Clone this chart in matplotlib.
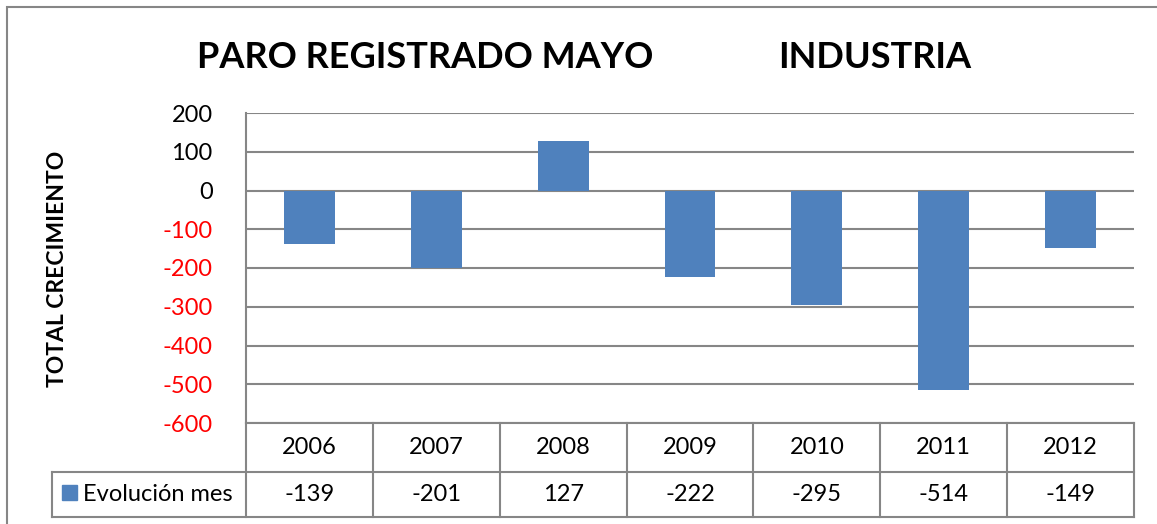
import matplotlib
matplotlib.use("Agg")
import matplotlib.pyplot as plt
import matplotlib.transforms as mtransforms
from matplotlib.patches import Rectangle

# datos del grafico
anios = ["2006", "2007", "2008", "2009", "2010", "2011", "2012"]
evolucion_mes = [-139, -201, 127, -222, -295, -514, -149]
serie = "Evolución mes"
ticks_y = [200, 100, 0, -100, -200, -300, -400, -500, -600]

AZUL = "#4F81BD"
GRIS = "#868686"
plt.rcParams["font.family"] = ["Lato", "DejaVu Sans"]

W, H = 1157, 524
fig = plt.figure(figsize=(W / 100, H / 100), dpi=100)

def fx(px):
    return px / W

def fy(py):
    return 1 - py / H

# borde exterior del grafico (cortado a la derecha y abajo)
fig.patches.append(Rectangle((fx(7), fy(530)), fx(1160), fy(7) - fy(530),
                             transform=fig.transFigure, fill=False,
                             edgecolor=GRIS, linewidth=1.5))

ax = fig.add_axes([fx(246), fy(423), fx(1134) - fx(246), fy(113) - fy(423)])
x = list(range(len(anios)))
ax.bar(x, evolucion_mes, width=0.4, color=AZUL, zorder=3)
ax.set_xlim(-0.5, len(anios) - 0.5)
ax.set_ylim(-600, 200)
ax.set_yticks(ticks_y)
ax.set_yticklabels([str(t) for t in ticks_y], fontsize=17)
for lbl, t in zip(ax.get_yticklabels(), ticks_y):
    lbl.set_color("red" if t < 0 else "black")
ax.tick_params(axis="y", length=0, pad=24)
ax.set_xticks([])
ax.grid(axis="y", color=GRIS, linewidth=1.5, zorder=0)
for s in ["top", "right", "bottom"]:
    ax.spines[s].set_visible(False)
ax.spines["left"].set_color(GRIS)
ax.spines["left"].set_linewidth(1.5)

# titulo del eje
fig.text(fx(57), fy(269), "TOTAL CRECIMIENTO", rotation=90, fontsize=16.5,
         fontweight="bold", ha="center", va="center")

# titulo
fig.text(fx(197), fy(68), "PARO REGISTRADO MAYO", fontsize=26,
         fontweight="bold", va="baseline", ha="left")
fig.text(fx(778), fy(68), "INDUSTRIA", fontsize=26,
         fontweight="bold", va="baseline", ha="left")

# tabla de datos
tr = mtransforms.blended_transform_factory(ax.transData, fig.transFigure)
y_top, y_mid, y_bot = fy(423), fy(472), fy(517)
x_leg = -0.5 - (246 - 52) / ((1134 - 246) / len(anios))
lk = dict(color=GRIS, linewidth=1.5, clip_on=False, transform=tr)
ax.plot([-0.5, len(anios) - 0.5], [y_top, y_top], **lk)
ax.plot([x_leg, len(anios) - 0.5], [y_mid, y_mid], **lk)
ax.plot([x_leg, len(anios) - 0.5], [y_bot, y_bot], **lk)
ax.plot([x_leg, x_leg], [y_mid, y_bot], **lk)
for i in range(len(anios) + 1):
    ax.plot([i - 0.5, i - 0.5], [y_top, y_bot], **lk)
for i, (a, v) in enumerate(zip(anios, evolucion_mes)):
    ax.text(i, (y_top + y_mid) / 2, a, transform=tr, ha="center",
            va="center", fontsize=17)
    ax.text(i, (y_mid + y_bot) / 2, str(v), transform=tr, ha="center",
            va="center", fontsize=17)

fig.patches.append(Rectangle((fx(62), fy(500)), fx(15), fy(485) - fy(500),
                             transform=fig.transFigure, color=AZUL))
fig.text(fx(83), (y_mid + y_bot) / 2, serie, ha="left", va="center",
         fontsize=17)

fig.savefig("out.png", dpi=100)
